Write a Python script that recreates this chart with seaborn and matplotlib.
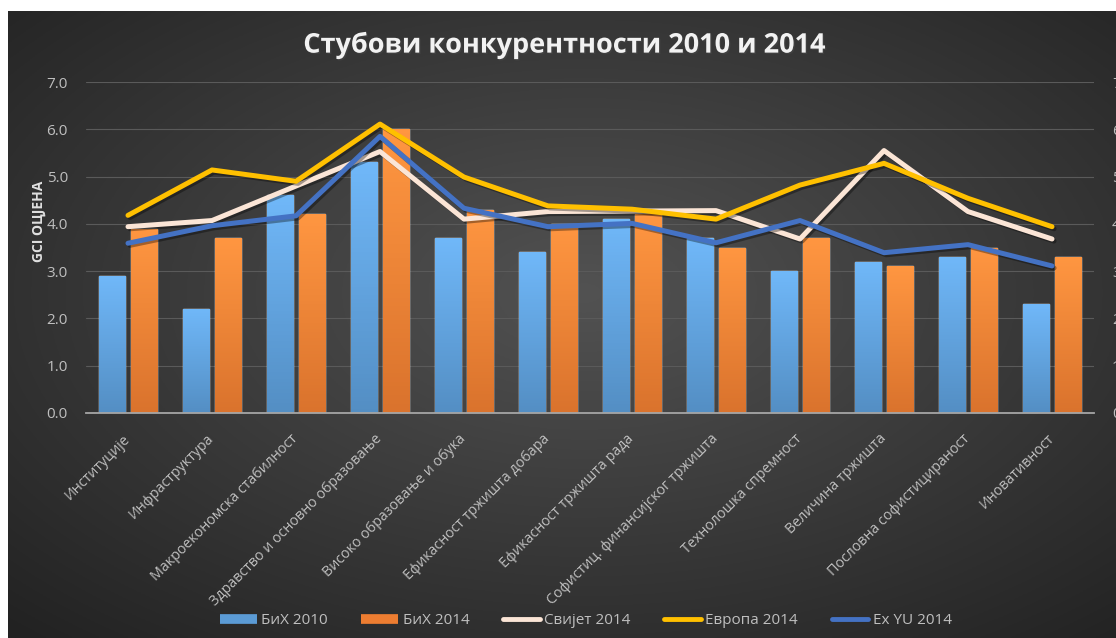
import numpy as np
import pandas as pd
import matplotlib
matplotlib.use("Agg")
import matplotlib.pyplot as plt
import matplotlib.patheffects as pe
from matplotlib.lines import Line2D
import seaborn as sns

# --- data ---
categories = [
    "Институције", "Инфраструктура", "Макроекономска стабилност",
    "Здравство и основно образовање", "Високо образовање и обука",
    "Ефикасност тржишта добара", "Ефикасност тржишта рада",
    "Софистиц. финансијског тржишта", "Технолошка спремност",
    "Величина тржишта", "Пословна софистицираност", "Иновативност",
]
bih_2010 = [2.9, 2.2, 4.6, 5.3, 3.7, 3.4, 4.1, 3.7, 3.0, 3.2, 3.3, 2.3]
bih_2014 = [3.9, 3.7, 4.2, 6.0, 4.3, 4.0, 4.2, 3.5, 3.7, 3.1, 3.5, 3.3]
svijet_2014 = [3.94, 4.07, 4.80, 5.53, 4.10, 4.26, 4.27, 4.28, 3.68, 5.55, 4.26, 3.68]
evropa_2014 = [4.18, 5.14, 4.90, 6.11, 4.99, 4.38, 4.31, 4.10, 4.82, 5.28, 4.54, 3.94]
exyu_2014 = [3.59, 3.96, 4.17, 5.85, 4.33, 3.94, 4.01, 3.60, 4.07, 3.39, 3.56, 3.11]

bar_names = ["БиХ 2010", "БиХ 2014"]
line_names = ["Свијет 2014", "Европа 2014", "Ex YU 2014"]
yticks = [0, 1, 2, 3, 4, 5, 6, 7]

bar_colors = {"БиХ 2010": "#5B9BD5", "БиХ 2014": "#ED7D31"}
line_colors = {"Свијет 2014": "#FBE5D6", "Европа 2014": "#FFC000", "Ex YU 2014": "#4472C4"}
text_col = "#BFBFBF"

sns.set_style("dark")
plt.rcParams["font.family"] = ["Open Sans", "DejaVu Sans"]

bars = pd.DataFrame({
    "pillar": categories * 2,
    "series": [bar_names[0]] * len(categories) + [bar_names[1]] * len(categories),
    "value": bih_2010 + bih_2014,
})
idx = list(range(len(categories)))
lines = pd.DataFrame({
    "idx": idx * 3,
    "series": sum([[n] * len(categories) for n in line_names], []),
    "value": svijet_2014 + evropa_2014 + exyu_2014,
})

fig = plt.figure(figsize=(11.16, 6.38), dpi=100)
fig.patch.set_facecolor("white")

# dark radial background panel (the picture is cropped on the right)
bg = fig.add_axes([8 / 1116, 0, 1 - 8 / 1116, 1 - 11 / 638], zorder=-5)
yy, xx = np.mgrid[0:1:300j, 0:1:500j]
d = np.sqrt(((xx - 0.52) / 0.75) ** 2 + ((yy - 0.45) / 0.75) ** 2)
d = np.clip(d, 0, 1)
c0, c1 = np.array([0x52, 0x52, 0x52]) / 255, np.array([0x22, 0x22, 0x22]) / 255
img = c0[None, None, :] * (1 - d[..., None]) + c1[None, None, :] * d[..., None]
bg.imshow(img, aspect="auto", extent=[0, 1, 0, 1])
bg.set_axis_off()

ax = fig.add_axes([86 / 1116, 1 - 413 / 638, (1094 - 86) / 1116, (413 - 82) / 638])
ax.set_facecolor("none")

sns.barplot(data=bars, x="pillar", y="value", hue="series", palette=bar_colors,
            width=0.76, gap=0.18, ax=ax, legend=False, saturation=1, zorder=2)

# vertical gradient on each bar
for p in list(ax.patches):
    x0, y0 = p.get_x(), p.get_y()
    w, h = p.get_width(), p.get_height()
    base = np.array(matplotlib.colors.to_rgb(p.get_facecolor()))
    g = np.linspace(0, 1, 64)[:, None]
    top = np.clip(base * 1.12 + 0.04, 0, 1)
    bot = np.clip(base * 0.92, 0, 1)
    grad = top[None, None, :] * (1 - g[..., None]) + bot[None, None, :] * g[..., None]
    grad = np.repeat(grad, 2, axis=1)
    im = ax.imshow(grad, extent=[x0, x0 + w, y0, y0 + h], aspect="auto", zorder=2.1)
    im.set_clip_path(p)

sns.lineplot(data=lines, x="idx", y="value", hue="series", palette=line_colors,
             sort=False, linewidth=3.6, ax=ax, legend=False, zorder=4)
for ln in ax.lines:
    ln.set_solid_capstyle("round")
    ln.set_path_effects([pe.SimpleLineShadow(offset=(1.5, -1.5), alpha=0.35),
                         pe.Normal()])

ax.set_xlim(-0.5, len(categories) - 0.5)
ax.set_ylim(0, 7)
ax.set_yticks(yticks)
ax.set_yticklabels([f"{v:.1f}" for v in yticks], color=text_col, fontsize=11)
ax.tick_params(axis="y", length=0, pad=13)
ax.set_xticks(idx)
ax.set_xticklabels(categories, rotation=45, ha="right", va="center",
                   rotation_mode="anchor", color=text_col, fontsize=10.3)
ax.tick_params(axis="x", length=0, pad=17)
ax.set_xlabel("")
ax.set_ylabel("GCI ОЦЈЕНА", color="#E0E0E0", fontsize=10, fontweight="bold")
ax.yaxis.set_label_coords(-0.04, 0.58)

ax.grid(axis="y", color="#5A5A5A", linewidth=0.8)
ax.grid(axis="x", visible=False)
ax.set_axisbelow(True)
for s in ["top", "left", "right"]:
    ax.spines[s].set_visible(False)
ax.spines["bottom"].set_color("#A6A6A6")
ax.spines["bottom"].set_linewidth(1.3)

ax2 = ax.twinx()
ax2.set_ylim(0, 7)
ax2.set_yticks(yticks)
ax2.set_yticklabels([f"{v:.1f}" for v in yticks], color=text_col, fontsize=11)
ax2.tick_params(axis="y", length=0, pad=13)
for s in ax2.spines.values():
    s.set_visible(False)
ax2.grid(False)

fig.text(0.506, 1 - 45 / 638, "Стубови конкурентности 2010 и 2014", ha="center", va="center",
         fontsize=19.5, fontweight="bold", color="#F2F2F2",
         path_effects=[pe.withSimplePatchShadow(offset=(1, -1), alpha=0.5)])

handles = [Line2D([0], [0], color=bar_colors[n], lw=7, solid_capstyle="butt") for n in bar_names]
handles += [Line2D([0], [0], color=line_colors[n], lw=3.5, solid_capstyle="round") for n in line_names]
leg = fig.legend(handles, bar_names + line_names, loc="center", bbox_to_anchor=(0.525, 1 - 621 / 638),
                 ncol=5, frameon=False, fontsize=11, handlelength=2.4, handletextpad=0.3,
                 columnspacing=2.2)
for t in leg.get_texts():
    t.set_color(text_col)

plt.savefig("out.png", dpi=100, facecolor=fig.get_facecolor())
